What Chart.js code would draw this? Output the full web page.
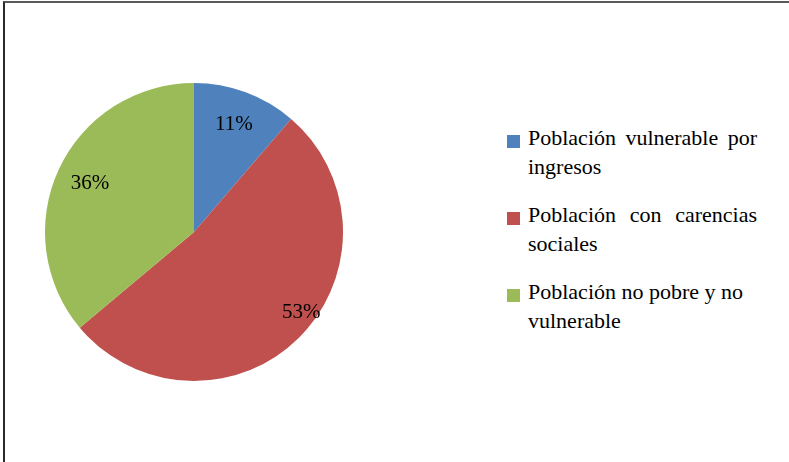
<!DOCTYPE html>
<html>
<head>
<meta charset="utf-8">
<script src="https://cdn.jsdelivr.net/npm/chart.js@4/dist/chart.umd.min.js"></script>
<style>
  html, body { margin: 0; padding: 0; background: #fff; }
  body { width: 789px; height: 462px; position: relative; overflow: hidden; }
  #frame { position: absolute; left: 3px; top: 1px; width: 800px; height: 470px; border-top: 2px solid #5a5a5a; border-left: 2px solid #2a2a2a; }
  #wrap { position: absolute; left: 45px; top: 83px; width: 298px; height: 298px; }
  #legend { position: absolute; left: 507px; top: 123px; }
  .item { position: relative; height: 60px; margin-bottom: 17px; }
  .sw { position: absolute; left: 0; top: 12px; width: 13px; height: 13px; }
  .txt { position: absolute; left: 21px; top: 0; width: 229px; font: 22px/29px "Liberation Serif", serif; color: #000; text-align: justify; }
</style>
</head>
<body>
<div id="frame"></div>
<div id="wrap"><canvas id="c"></canvas></div>
<div id="legend"></div>
<script>
const categories = [
  "Población vulnerable por ingresos",
  "Población con carencias sociales",
  "Población no pobre y no vulnerable"
];
const shares = [11.3, 52.6, 36.1];
const colors = ["#4F81BD", "#C0504D", "#9BBB59"];
const labelRadius = [0.77, 0.9, 0.77];
const labelFrac = [0.5, 0.455, 0.5];

const legend = document.getElementById('legend');
categories.forEach((c, i) => {
  const it = document.createElement('div');
  it.className = 'item';
  const sw = document.createElement('div');
  sw.className = 'sw';
  sw.style.background = colors[i];
  const tx = document.createElement('div');
  tx.className = 'txt';
  tx.textContent = c;
  if (i === 2) tx.style.textAlign = 'left';
  it.appendChild(sw); it.appendChild(tx);
  legend.appendChild(it);
});

const pctLabels = {
  id: 'pctLabels',
  afterDatasetsDraw(chart) {
    const ctx = chart.ctx;
    const meta = chart.getDatasetMeta(0);
    const data = chart.data.datasets[0].data;
    const total = data.reduce((a, b) => a + b, 0);
    ctx.save();
    ctx.font = '21px "Liberation Serif", serif';
    ctx.fillStyle = '#000';
    ctx.textAlign = 'center';
    ctx.textBaseline = 'middle';
    meta.data.forEach((arc, i) => {
      const p = arc.getProps(['x', 'y', 'startAngle', 'endAngle', 'outerRadius'], true);
      const mid = p.startAngle + (p.endAngle - p.startAngle) * labelFrac[i];
      const r = p.outerRadius * labelRadius[i];
      ctx.fillText(Math.round(data[i] / total * 100) + '%', p.x + Math.cos(mid) * r, p.y + Math.sin(mid) * r);
    });
    ctx.restore();
  }
};

new Chart(document.getElementById('c'), {
  type: 'pie',
  data: {
    labels: categories,
    datasets: [{ data: shares, backgroundColor: colors, borderWidth: 0 }]
  },
  options: {
    responsive: true,
    maintainAspectRatio: false,
    animation: false,
    layout: { padding: 0 },
    plugins: { legend: { display: false }, tooltip: { enabled: false } }
  },
  plugins: [pctLabels]
});
</script>
</body>
</html>
